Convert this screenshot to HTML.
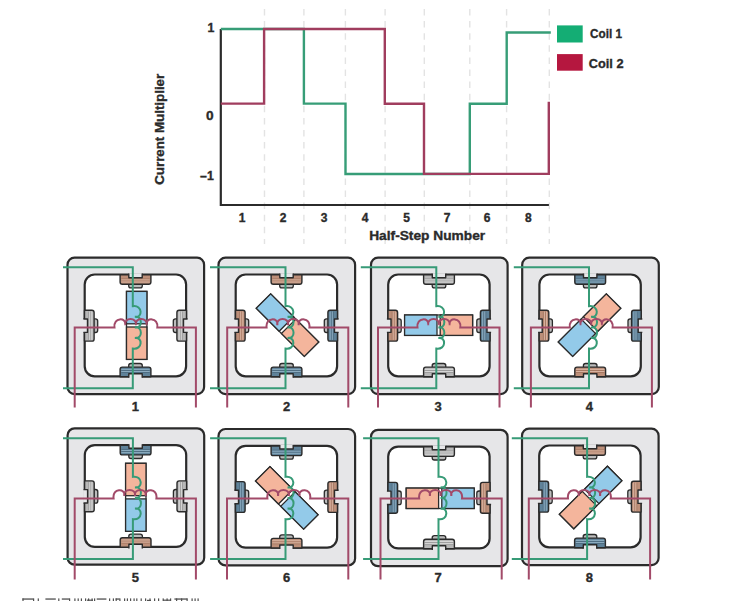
<!DOCTYPE html>
<html><head><meta charset="utf-8"><style>
html,body{margin:0;padding:0;background:#fff;}
svg{display:block;}
</style></head><body>
<svg width="746" height="601" viewBox="0 0 746 601">
<rect width="746" height="601" fill="#fff"/>
<line x1="264.5" y1="9" x2="264.5" y2="244" stroke="#e3e3e3" stroke-width="1.4" stroke-dasharray="6.5 5.6"/>
<line x1="303.9" y1="9" x2="303.9" y2="244" stroke="#e3e3e3" stroke-width="1.4" stroke-dasharray="6.5 5.6"/>
<line x1="345.4" y1="9" x2="345.4" y2="244" stroke="#e3e3e3" stroke-width="1.4" stroke-dasharray="6.5 5.6"/>
<line x1="385.1" y1="9" x2="385.1" y2="244" stroke="#e3e3e3" stroke-width="1.4" stroke-dasharray="6.5 5.6"/>
<line x1="424.3" y1="9" x2="424.3" y2="244" stroke="#e3e3e3" stroke-width="1.4" stroke-dasharray="6.5 5.6"/>
<line x1="469.8" y1="9" x2="469.8" y2="244" stroke="#e3e3e3" stroke-width="1.4" stroke-dasharray="6.5 5.6"/>
<line x1="506.6" y1="9" x2="506.6" y2="244" stroke="#e3e3e3" stroke-width="1.4" stroke-dasharray="6.5 5.6"/>
<line x1="549.3" y1="9" x2="549.3" y2="244" stroke="#e3e3e3" stroke-width="1.4" stroke-dasharray="6.5 5.6"/>
<path d="M220.8,29 V205 H548.9" fill="none" stroke="#2b2b2b" stroke-width="2.2"/>
<path d="M220.8,29 H303.9 V103.6 H345.5 V174 H469.8 V103.8 H506.7 V32.5 H550.8" fill="none" stroke="#379d77" stroke-width="2.4"/>
<path d="M220.8,103.6 H264.1 V29 H384.8 V103.7 H424 V173.9 H548.8 V101.8" fill="none" stroke="#a03d5e" stroke-width="2.4"/>
<rect x="557" y="25.4" width="25.7" height="17.1" fill="#14ad74"/>
<rect x="557" y="54.1" width="25.7" height="16.6" fill="#b5173f"/>
<text x="590" y="38.2" font-family="Liberation Sans, sans-serif" font-weight="bold" fill="#2a2a2a" stroke="#2a2a2a" stroke-width="0.35" font-size="13.2" textLength="32" lengthAdjust="spacingAndGlyphs">Coil 1</text>
<text x="588.8" y="67.7" font-family="Liberation Sans, sans-serif" font-weight="bold" fill="#2a2a2a" stroke="#2a2a2a" stroke-width="0.35" font-size="13.2" textLength="34.7" lengthAdjust="spacingAndGlyphs">Coil 2</text>
<text x="214.4" y="31.8" font-family="Liberation Sans, sans-serif" font-weight="bold" fill="#2a2a2a" stroke="#2a2a2a" stroke-width="0.35" font-size="12.3" text-anchor="end">1</text>
<text x="213.6" y="119.5" font-family="Liberation Sans, sans-serif" font-weight="bold" fill="#2a2a2a" stroke="#2a2a2a" stroke-width="0.35" font-size="12.3" text-anchor="end" textLength="7.6" lengthAdjust="spacingAndGlyphs">0</text>
<text x="213.8" y="179.9" font-family="Liberation Sans, sans-serif" font-weight="bold" fill="#2a2a2a" stroke="#2a2a2a" stroke-width="0.35" font-size="12.3" text-anchor="end">–1</text>
<text transform="translate(164,129.3) rotate(-90)" font-family="Liberation Sans, sans-serif" font-weight="bold" fill="#2a2a2a" stroke="#2a2a2a" stroke-width="0.35" font-size="13.4" text-anchor="middle" textLength="111" lengthAdjust="spacingAndGlyphs">Current Multiplier</text>
<text x="242" y="221.6" font-family="Liberation Sans, sans-serif" font-weight="bold" fill="#2a2a2a" stroke="#2a2a2a" stroke-width="0.35" font-size="12" text-anchor="middle">1</text>
<text x="283" y="221.6" font-family="Liberation Sans, sans-serif" font-weight="bold" fill="#2a2a2a" stroke="#2a2a2a" stroke-width="0.35" font-size="12" text-anchor="middle">2</text>
<text x="324" y="221.6" font-family="Liberation Sans, sans-serif" font-weight="bold" fill="#2a2a2a" stroke="#2a2a2a" stroke-width="0.35" font-size="12" text-anchor="middle">3</text>
<text x="365" y="221.6" font-family="Liberation Sans, sans-serif" font-weight="bold" fill="#2a2a2a" stroke="#2a2a2a" stroke-width="0.35" font-size="12" text-anchor="middle">4</text>
<text x="406.5" y="221.6" font-family="Liberation Sans, sans-serif" font-weight="bold" fill="#2a2a2a" stroke="#2a2a2a" stroke-width="0.35" font-size="12" text-anchor="middle">5</text>
<text x="447" y="221.6" font-family="Liberation Sans, sans-serif" font-weight="bold" fill="#2a2a2a" stroke="#2a2a2a" stroke-width="0.35" font-size="12" text-anchor="middle">7</text>
<text x="487.2" y="221.6" font-family="Liberation Sans, sans-serif" font-weight="bold" fill="#2a2a2a" stroke="#2a2a2a" stroke-width="0.35" font-size="12" text-anchor="middle">6</text>
<text x="528.3" y="221.6" font-family="Liberation Sans, sans-serif" font-weight="bold" fill="#2a2a2a" stroke="#2a2a2a" stroke-width="0.35" font-size="12" text-anchor="middle">8</text>
<text x="427.2" y="240.3" font-family="Liberation Sans, sans-serif" font-weight="bold" fill="#2a2a2a" stroke="#2a2a2a" stroke-width="0.35" font-size="13" text-anchor="middle" textLength="116" lengthAdjust="spacingAndGlyphs">Half-Step Number</text>
<g transform="translate(67.5,257.7)"><rect x="0" y="0" width="136.6" height="136.4" rx="7" fill="#e6e6e8" stroke="#2b2b2b" stroke-width="2.2"/><rect x="17.2" y="16.8" width="101.4" height="101.8" rx="10" fill="#fff" stroke="#2b2b2b" stroke-width="2.2"/><g transform="rotate(0 68 68)"><rect x="61.2" y="24.799999999999997" width="13.6" height="5.4" rx="2.2" fill="#bdbdbd" stroke="#2b2b2b" stroke-width="1.3"/><path d="M52.6,17 H83.4 V24.400000000000002 Q83.4,26.6 81.2,26.6 H54.8 Q52.6,26.6 52.6,24.400000000000002 Z" fill="#bd8f79" stroke="#2b2b2b" stroke-width="1.4" stroke-linejoin="round"/><path d="M53.8,21.2 H82.2 M53.8,23.2 H82.2" stroke="#8a5b48" stroke-width="0.7" opacity="0.6"/><path d="M53.8,22.2 H82.2 M53.8,24.3 H82.2" stroke="#dfbcab" stroke-width="0.8"/><rect x="61.3" y="15.5" width="13.4" height="4.5" fill="#e6e6e8"/><path d="M61.3,15.9 V20 H74.7 V15.9" fill="none" stroke="#2b2b2b" stroke-width="1.4" stroke-linejoin="round"/></g><g transform="rotate(90 68 68)"><rect x="61.2" y="24.799999999999997" width="13.6" height="5.4" rx="2.2" fill="#bdbdbd" stroke="#2b2b2b" stroke-width="1.3"/><path d="M52.6,17 H83.4 V24.400000000000002 Q83.4,26.6 81.2,26.6 H54.8 Q52.6,26.6 52.6,24.400000000000002 Z" fill="#b8b8b8" stroke="#2b2b2b" stroke-width="1.4" stroke-linejoin="round"/><path d="M53.8,21.2 H82.2 M53.8,23.2 H82.2" stroke="#777777" stroke-width="0.7" opacity="0.6"/><path d="M53.8,22.2 H82.2 M53.8,24.3 H82.2" stroke="#e0e0e0" stroke-width="0.8"/><rect x="61.3" y="15.5" width="13.4" height="4.5" fill="#e6e6e8"/><path d="M61.3,15.9 V20 H74.7 V15.9" fill="none" stroke="#2b2b2b" stroke-width="1.4" stroke-linejoin="round"/></g><g transform="rotate(180 68 68)"><rect x="61.2" y="24.799999999999997" width="13.6" height="5.4" rx="2.2" fill="#bdbdbd" stroke="#2b2b2b" stroke-width="1.3"/><path d="M52.6,17 H83.4 V24.400000000000002 Q83.4,26.6 81.2,26.6 H54.8 Q52.6,26.6 52.6,24.400000000000002 Z" fill="#5f8299" stroke="#2b2b2b" stroke-width="1.4" stroke-linejoin="round"/><path d="M53.8,21.2 H82.2 M53.8,23.2 H82.2" stroke="#3c5566" stroke-width="0.7" opacity="0.6"/><path d="M53.8,22.2 H82.2 M53.8,24.3 H82.2" stroke="#98b8ca" stroke-width="0.8"/><rect x="61.3" y="15.5" width="13.4" height="4.5" fill="#e6e6e8"/><path d="M61.3,15.9 V20 H74.7 V15.9" fill="none" stroke="#2b2b2b" stroke-width="1.4" stroke-linejoin="round"/></g><g transform="rotate(-90 68 68)"><rect x="61.2" y="24.799999999999997" width="13.6" height="5.4" rx="2.2" fill="#bdbdbd" stroke="#2b2b2b" stroke-width="1.3"/><path d="M52.6,17 H83.4 V24.400000000000002 Q83.4,26.6 81.2,26.6 H54.8 Q52.6,26.6 52.6,24.400000000000002 Z" fill="#b8b8b8" stroke="#2b2b2b" stroke-width="1.4" stroke-linejoin="round"/><path d="M53.8,21.2 H82.2 M53.8,23.2 H82.2" stroke="#777777" stroke-width="0.7" opacity="0.6"/><path d="M53.8,22.2 H82.2 M53.8,24.3 H82.2" stroke="#e0e0e0" stroke-width="0.8"/><rect x="61.3" y="15.5" width="13.4" height="4.5" fill="#e6e6e8"/><path d="M61.3,15.9 V20 H74.7 V15.9" fill="none" stroke="#2b2b2b" stroke-width="1.4" stroke-linejoin="round"/></g></g><g transform="translate(136.7,325.4) rotate(90)"><rect x="-34" y="-10.2" width="68" height="20.4" fill="#fff" stroke="#2b2b2b" stroke-width="1.3"/><rect x="-34" y="-10.2" width="32.4" height="20.4" fill="#93cae9" stroke="#2b2b2b" stroke-width="1.3"/><rect x="1.6" y="-10.2" width="32.4" height="20.4" fill="#f4b59c" stroke="#2b2b2b" stroke-width="1.3"/></g><path d="M63,267.2 H132.8 V306.2 C142.8,304.7 142.8,318.3 135.0,316.8 C142.8,315.3 142.8,328.90000000000003 135.0,327.40000000000003 C142.8,325.90000000000003 142.8,339.50000000000006 135.0,338.00000000000006 C142.8,336.50000000000006 142.8,350.1000000000001 132.8,348.6000000000001 V388.2 H63" fill="none" stroke="#379b77" stroke-width="2"/><path d="M74.7,407.6 V327.6 H114.5 C113.0,317.1 126.7,317.1 125.2,325.0 C123.7,317.1 137.4,317.1 135.9,325.0 C134.4,317.1 148.1,317.1 146.6,325.0 C145.1,317.1 158.79999999999998,317.1 157.29999999999998,327.6 H195.9 V407.6" fill="none" stroke="#a24a69" stroke-width="2"/><text x="135.4" y="411.2" font-family="Liberation Sans, sans-serif" font-weight="bold" fill="#2a2a2a" stroke="#2a2a2a" stroke-width="0.35" font-size="13" text-anchor="middle">1</text>
<g transform="translate(218.5,257.7)"><rect x="0" y="0" width="136.6" height="136.4" rx="7" fill="#e6e6e8" stroke="#2b2b2b" stroke-width="2.2"/><rect x="17.2" y="16.8" width="101.4" height="101.8" rx="10" fill="#fff" stroke="#2b2b2b" stroke-width="2.2"/><g transform="rotate(0 68 68)"><rect x="61.2" y="24.799999999999997" width="13.6" height="5.4" rx="2.2" fill="#bdbdbd" stroke="#2b2b2b" stroke-width="1.3"/><path d="M52.6,17 H83.4 V24.400000000000002 Q83.4,26.6 81.2,26.6 H54.8 Q52.6,26.6 52.6,24.400000000000002 Z" fill="#bd8f79" stroke="#2b2b2b" stroke-width="1.4" stroke-linejoin="round"/><path d="M53.8,21.2 H82.2 M53.8,23.2 H82.2" stroke="#8a5b48" stroke-width="0.7" opacity="0.6"/><path d="M53.8,22.2 H82.2 M53.8,24.3 H82.2" stroke="#dfbcab" stroke-width="0.8"/><rect x="61.3" y="15.5" width="13.4" height="4.5" fill="#e6e6e8"/><path d="M61.3,15.9 V20 H74.7 V15.9" fill="none" stroke="#2b2b2b" stroke-width="1.4" stroke-linejoin="round"/></g><g transform="rotate(90 68 68)"><rect x="61.2" y="24.799999999999997" width="13.6" height="5.4" rx="2.2" fill="#bdbdbd" stroke="#2b2b2b" stroke-width="1.3"/><path d="M52.6,17 H83.4 V24.400000000000002 Q83.4,26.6 81.2,26.6 H54.8 Q52.6,26.6 52.6,24.400000000000002 Z" fill="#5f8299" stroke="#2b2b2b" stroke-width="1.4" stroke-linejoin="round"/><path d="M53.8,21.2 H82.2 M53.8,23.2 H82.2" stroke="#3c5566" stroke-width="0.7" opacity="0.6"/><path d="M53.8,22.2 H82.2 M53.8,24.3 H82.2" stroke="#98b8ca" stroke-width="0.8"/><rect x="61.3" y="15.5" width="13.4" height="4.5" fill="#e6e6e8"/><path d="M61.3,15.9 V20 H74.7 V15.9" fill="none" stroke="#2b2b2b" stroke-width="1.4" stroke-linejoin="round"/></g><g transform="rotate(180 68 68)"><rect x="61.2" y="24.799999999999997" width="13.6" height="5.4" rx="2.2" fill="#bdbdbd" stroke="#2b2b2b" stroke-width="1.3"/><path d="M52.6,17 H83.4 V24.400000000000002 Q83.4,26.6 81.2,26.6 H54.8 Q52.6,26.6 52.6,24.400000000000002 Z" fill="#5f8299" stroke="#2b2b2b" stroke-width="1.4" stroke-linejoin="round"/><path d="M53.8,21.2 H82.2 M53.8,23.2 H82.2" stroke="#3c5566" stroke-width="0.7" opacity="0.6"/><path d="M53.8,22.2 H82.2 M53.8,24.3 H82.2" stroke="#98b8ca" stroke-width="0.8"/><rect x="61.3" y="15.5" width="13.4" height="4.5" fill="#e6e6e8"/><path d="M61.3,15.9 V20 H74.7 V15.9" fill="none" stroke="#2b2b2b" stroke-width="1.4" stroke-linejoin="round"/></g><g transform="rotate(-90 68 68)"><rect x="61.2" y="24.799999999999997" width="13.6" height="5.4" rx="2.2" fill="#bdbdbd" stroke="#2b2b2b" stroke-width="1.3"/><path d="M52.6,17 H83.4 V24.400000000000002 Q83.4,26.6 81.2,26.6 H54.8 Q52.6,26.6 52.6,24.400000000000002 Z" fill="#bd8f79" stroke="#2b2b2b" stroke-width="1.4" stroke-linejoin="round"/><path d="M53.8,21.2 H82.2 M53.8,23.2 H82.2" stroke="#8a5b48" stroke-width="0.7" opacity="0.6"/><path d="M53.8,22.2 H82.2 M53.8,24.3 H82.2" stroke="#dfbcab" stroke-width="0.8"/><rect x="61.3" y="15.5" width="13.4" height="4.5" fill="#e6e6e8"/><path d="M61.3,15.9 V20 H74.7 V15.9" fill="none" stroke="#2b2b2b" stroke-width="1.4" stroke-linejoin="round"/></g></g><g transform="translate(287.5,325.2) rotate(45)"><rect x="-34" y="-10.2" width="68" height="20.4" fill="#fff" stroke="#2b2b2b" stroke-width="1.3"/><rect x="-34" y="-10.2" width="32.4" height="20.4" fill="#93cae9" stroke="#2b2b2b" stroke-width="1.3"/><rect x="1.6" y="-10.2" width="32.4" height="20.4" fill="#f4b59c" stroke="#2b2b2b" stroke-width="1.3"/></g><path d="M210,267.2 H285.5 V306.2 C295.5,304.7 295.5,318.3 287.7,316.8 C295.5,315.3 295.5,328.90000000000003 287.7,327.40000000000003 C295.5,325.90000000000003 295.5,339.50000000000006 287.7,338.00000000000006 C295.5,336.50000000000006 295.5,350.1000000000001 285.5,348.6000000000001 V388.2 H210" fill="none" stroke="#379b77" stroke-width="2"/><path d="M227.2,407.6 V327.6 H266.6 C265.1,317.1 278.8,317.1 277.3,325.0 C275.8,317.1 289.5,317.1 288.0,325.0 C286.5,317.1 300.2,317.1 298.7,325.0 C297.2,317.1 310.9,317.1 309.4,327.6 H348.3 V407.6" fill="none" stroke="#a24a69" stroke-width="2"/><text x="286.6" y="411.2" font-family="Liberation Sans, sans-serif" font-weight="bold" fill="#2a2a2a" stroke="#2a2a2a" stroke-width="0.35" font-size="13" text-anchor="middle">2</text>
<g transform="translate(371,257.7)"><rect x="0" y="0" width="136.6" height="136.4" rx="7" fill="#e6e6e8" stroke="#2b2b2b" stroke-width="2.2"/><rect x="17.2" y="16.8" width="101.4" height="101.8" rx="10" fill="#fff" stroke="#2b2b2b" stroke-width="2.2"/><g transform="rotate(0 68 68)"><rect x="61.2" y="24.799999999999997" width="13.6" height="5.4" rx="2.2" fill="#bdbdbd" stroke="#2b2b2b" stroke-width="1.3"/><path d="M52.6,17 H83.4 V24.400000000000002 Q83.4,26.6 81.2,26.6 H54.8 Q52.6,26.6 52.6,24.400000000000002 Z" fill="#b8b8b8" stroke="#2b2b2b" stroke-width="1.4" stroke-linejoin="round"/><path d="M53.8,21.2 H82.2 M53.8,23.2 H82.2" stroke="#777777" stroke-width="0.7" opacity="0.6"/><path d="M53.8,22.2 H82.2 M53.8,24.3 H82.2" stroke="#e0e0e0" stroke-width="0.8"/><rect x="61.3" y="15.5" width="13.4" height="4.5" fill="#e6e6e8"/><path d="M61.3,15.9 V20 H74.7 V15.9" fill="none" stroke="#2b2b2b" stroke-width="1.4" stroke-linejoin="round"/></g><g transform="rotate(90 68 68)"><rect x="61.2" y="24.799999999999997" width="13.6" height="5.4" rx="2.2" fill="#bdbdbd" stroke="#2b2b2b" stroke-width="1.3"/><path d="M52.6,17 H83.4 V24.400000000000002 Q83.4,26.6 81.2,26.6 H54.8 Q52.6,26.6 52.6,24.400000000000002 Z" fill="#5f8299" stroke="#2b2b2b" stroke-width="1.4" stroke-linejoin="round"/><path d="M53.8,21.2 H82.2 M53.8,23.2 H82.2" stroke="#3c5566" stroke-width="0.7" opacity="0.6"/><path d="M53.8,22.2 H82.2 M53.8,24.3 H82.2" stroke="#98b8ca" stroke-width="0.8"/><rect x="61.3" y="15.5" width="13.4" height="4.5" fill="#e6e6e8"/><path d="M61.3,15.9 V20 H74.7 V15.9" fill="none" stroke="#2b2b2b" stroke-width="1.4" stroke-linejoin="round"/></g><g transform="rotate(180 68 68)"><rect x="61.2" y="24.799999999999997" width="13.6" height="5.4" rx="2.2" fill="#bdbdbd" stroke="#2b2b2b" stroke-width="1.3"/><path d="M52.6,17 H83.4 V24.400000000000002 Q83.4,26.6 81.2,26.6 H54.8 Q52.6,26.6 52.6,24.400000000000002 Z" fill="#b8b8b8" stroke="#2b2b2b" stroke-width="1.4" stroke-linejoin="round"/><path d="M53.8,21.2 H82.2 M53.8,23.2 H82.2" stroke="#777777" stroke-width="0.7" opacity="0.6"/><path d="M53.8,22.2 H82.2 M53.8,24.3 H82.2" stroke="#e0e0e0" stroke-width="0.8"/><rect x="61.3" y="15.5" width="13.4" height="4.5" fill="#e6e6e8"/><path d="M61.3,15.9 V20 H74.7 V15.9" fill="none" stroke="#2b2b2b" stroke-width="1.4" stroke-linejoin="round"/></g><g transform="rotate(-90 68 68)"><rect x="61.2" y="24.799999999999997" width="13.6" height="5.4" rx="2.2" fill="#bdbdbd" stroke="#2b2b2b" stroke-width="1.3"/><path d="M52.6,17 H83.4 V24.400000000000002 Q83.4,26.6 81.2,26.6 H54.8 Q52.6,26.6 52.6,24.400000000000002 Z" fill="#bd8f79" stroke="#2b2b2b" stroke-width="1.4" stroke-linejoin="round"/><path d="M53.8,21.2 H82.2 M53.8,23.2 H82.2" stroke="#8a5b48" stroke-width="0.7" opacity="0.6"/><path d="M53.8,22.2 H82.2 M53.8,24.3 H82.2" stroke="#dfbcab" stroke-width="0.8"/><rect x="61.3" y="15.5" width="13.4" height="4.5" fill="#e6e6e8"/><path d="M61.3,15.9 V20 H74.7 V15.9" fill="none" stroke="#2b2b2b" stroke-width="1.4" stroke-linejoin="round"/></g></g><g transform="translate(438.6,325.2) rotate(0)"><rect x="-34" y="-10.2" width="68" height="20.4" fill="#fff" stroke="#2b2b2b" stroke-width="1.3"/><rect x="-34" y="-10.2" width="32.4" height="20.4" fill="#93cae9" stroke="#2b2b2b" stroke-width="1.3"/><rect x="1.6" y="-10.2" width="32.4" height="20.4" fill="#f4b59c" stroke="#2b2b2b" stroke-width="1.3"/></g><path d="M360.8,267.2 H436.3 V306.2 C446.3,304.7 446.3,318.3 438.5,316.8 C446.3,315.3 446.3,328.90000000000003 438.5,327.40000000000003 C446.3,325.90000000000003 446.3,339.50000000000006 438.5,338.00000000000006 C446.3,336.50000000000006 446.3,350.1000000000001 436.3,348.6000000000001 V388.2 H360.8" fill="none" stroke="#379b77" stroke-width="2"/><path d="M378,407.6 V327.6 H417.5 C416.0,317.1 429.7,317.1 428.2,325.0 C426.7,317.1 440.4,317.1 438.9,325.0 C437.4,317.1 451.09999999999997,317.1 449.59999999999997,325.0 C448.09999999999997,317.1 461.79999999999995,317.1 460.29999999999995,327.6 H499.5 V407.6" fill="none" stroke="#a24a69" stroke-width="2"/><text x="438.1" y="411.2" font-family="Liberation Sans, sans-serif" font-weight="bold" fill="#2a2a2a" stroke="#2a2a2a" stroke-width="0.35" font-size="13" text-anchor="middle">3</text>
<g transform="translate(522.2,257.7)"><rect x="0" y="0" width="136.6" height="136.4" rx="7" fill="#e6e6e8" stroke="#2b2b2b" stroke-width="2.2"/><rect x="17.2" y="16.8" width="101.4" height="101.8" rx="10" fill="#fff" stroke="#2b2b2b" stroke-width="2.2"/><g transform="rotate(0 68 68)"><rect x="61.2" y="24.799999999999997" width="13.6" height="5.4" rx="2.2" fill="#bdbdbd" stroke="#2b2b2b" stroke-width="1.3"/><path d="M52.6,17 H83.4 V24.400000000000002 Q83.4,26.6 81.2,26.6 H54.8 Q52.6,26.6 52.6,24.400000000000002 Z" fill="#5f8299" stroke="#2b2b2b" stroke-width="1.4" stroke-linejoin="round"/><path d="M53.8,21.2 H82.2 M53.8,23.2 H82.2" stroke="#3c5566" stroke-width="0.7" opacity="0.6"/><path d="M53.8,22.2 H82.2 M53.8,24.3 H82.2" stroke="#98b8ca" stroke-width="0.8"/><rect x="61.3" y="15.5" width="13.4" height="4.5" fill="#e6e6e8"/><path d="M61.3,15.9 V20 H74.7 V15.9" fill="none" stroke="#2b2b2b" stroke-width="1.4" stroke-linejoin="round"/></g><g transform="rotate(90 68 68)"><rect x="61.2" y="24.799999999999997" width="13.6" height="5.4" rx="2.2" fill="#bdbdbd" stroke="#2b2b2b" stroke-width="1.3"/><path d="M52.6,17 H83.4 V24.400000000000002 Q83.4,26.6 81.2,26.6 H54.8 Q52.6,26.6 52.6,24.400000000000002 Z" fill="#5f8299" stroke="#2b2b2b" stroke-width="1.4" stroke-linejoin="round"/><path d="M53.8,21.2 H82.2 M53.8,23.2 H82.2" stroke="#3c5566" stroke-width="0.7" opacity="0.6"/><path d="M53.8,22.2 H82.2 M53.8,24.3 H82.2" stroke="#98b8ca" stroke-width="0.8"/><rect x="61.3" y="15.5" width="13.4" height="4.5" fill="#e6e6e8"/><path d="M61.3,15.9 V20 H74.7 V15.9" fill="none" stroke="#2b2b2b" stroke-width="1.4" stroke-linejoin="round"/></g><g transform="rotate(180 68 68)"><rect x="61.2" y="24.799999999999997" width="13.6" height="5.4" rx="2.2" fill="#bdbdbd" stroke="#2b2b2b" stroke-width="1.3"/><path d="M52.6,17 H83.4 V24.400000000000002 Q83.4,26.6 81.2,26.6 H54.8 Q52.6,26.6 52.6,24.400000000000002 Z" fill="#bd8f79" stroke="#2b2b2b" stroke-width="1.4" stroke-linejoin="round"/><path d="M53.8,21.2 H82.2 M53.8,23.2 H82.2" stroke="#8a5b48" stroke-width="0.7" opacity="0.6"/><path d="M53.8,22.2 H82.2 M53.8,24.3 H82.2" stroke="#dfbcab" stroke-width="0.8"/><rect x="61.3" y="15.5" width="13.4" height="4.5" fill="#e6e6e8"/><path d="M61.3,15.9 V20 H74.7 V15.9" fill="none" stroke="#2b2b2b" stroke-width="1.4" stroke-linejoin="round"/></g><g transform="rotate(-90 68 68)"><rect x="61.2" y="24.799999999999997" width="13.6" height="5.4" rx="2.2" fill="#bdbdbd" stroke="#2b2b2b" stroke-width="1.3"/><path d="M52.6,17 H83.4 V24.400000000000002 Q83.4,26.6 81.2,26.6 H54.8 Q52.6,26.6 52.6,24.400000000000002 Z" fill="#bd8f79" stroke="#2b2b2b" stroke-width="1.4" stroke-linejoin="round"/><path d="M53.8,21.2 H82.2 M53.8,23.2 H82.2" stroke="#8a5b48" stroke-width="0.7" opacity="0.6"/><path d="M53.8,22.2 H82.2 M53.8,24.3 H82.2" stroke="#dfbcab" stroke-width="0.8"/><rect x="61.3" y="15.5" width="13.4" height="4.5" fill="#e6e6e8"/><path d="M61.3,15.9 V20 H74.7 V15.9" fill="none" stroke="#2b2b2b" stroke-width="1.4" stroke-linejoin="round"/></g></g><g transform="translate(589.5,325.2) rotate(-45)"><rect x="-34" y="-10.2" width="68" height="20.4" fill="#fff" stroke="#2b2b2b" stroke-width="1.3"/><rect x="-34" y="-10.2" width="32.4" height="20.4" fill="#93cae9" stroke="#2b2b2b" stroke-width="1.3"/><rect x="1.6" y="-10.2" width="32.4" height="20.4" fill="#f4b59c" stroke="#2b2b2b" stroke-width="1.3"/></g><path d="M513.8,267.2 H589 V306.2 C599,304.7 599,318.3 591.2,316.8 C599,315.3 599,328.90000000000003 591.2,327.40000000000003 C599,325.90000000000003 599,339.50000000000006 591.2,338.00000000000006 C599,336.50000000000006 599,350.1000000000001 589,348.6000000000001 V388.2 H513.8" fill="none" stroke="#379b77" stroke-width="2"/><path d="M530.9,407.6 V327.6 H569.8 C568.3,317.1 582.0,317.1 580.5,325.0 C579.0,317.1 592.7,317.1 591.2,325.0 C589.7,317.1 603.4000000000001,317.1 601.9000000000001,325.0 C600.4000000000001,317.1 614.1000000000001,317.1 612.6000000000001,327.6 H651.9 V407.6" fill="none" stroke="#a24a69" stroke-width="2"/><text x="589.4" y="411.2" font-family="Liberation Sans, sans-serif" font-weight="bold" fill="#2a2a2a" stroke="#2a2a2a" stroke-width="0.35" font-size="13" text-anchor="middle">4</text>
<g transform="translate(67.6,428.3)"><rect x="0" y="0" width="136.6" height="136.4" rx="7" fill="#e6e6e8" stroke="#2b2b2b" stroke-width="2.2"/><rect x="17.2" y="16.8" width="101.4" height="101.8" rx="10" fill="#fff" stroke="#2b2b2b" stroke-width="2.2"/><g transform="rotate(0 68 68)"><rect x="61.2" y="24.799999999999997" width="13.6" height="5.4" rx="2.2" fill="#bdbdbd" stroke="#2b2b2b" stroke-width="1.3"/><path d="M52.6,17 H83.4 V24.400000000000002 Q83.4,26.6 81.2,26.6 H54.8 Q52.6,26.6 52.6,24.400000000000002 Z" fill="#5f8299" stroke="#2b2b2b" stroke-width="1.4" stroke-linejoin="round"/><path d="M53.8,21.2 H82.2 M53.8,23.2 H82.2" stroke="#3c5566" stroke-width="0.7" opacity="0.6"/><path d="M53.8,22.2 H82.2 M53.8,24.3 H82.2" stroke="#98b8ca" stroke-width="0.8"/><rect x="61.3" y="15.5" width="13.4" height="4.5" fill="#e6e6e8"/><path d="M61.3,15.9 V20 H74.7 V15.9" fill="none" stroke="#2b2b2b" stroke-width="1.4" stroke-linejoin="round"/></g><g transform="rotate(90 68 68)"><rect x="61.2" y="24.799999999999997" width="13.6" height="5.4" rx="2.2" fill="#bdbdbd" stroke="#2b2b2b" stroke-width="1.3"/><path d="M52.6,17 H83.4 V24.400000000000002 Q83.4,26.6 81.2,26.6 H54.8 Q52.6,26.6 52.6,24.400000000000002 Z" fill="#b8b8b8" stroke="#2b2b2b" stroke-width="1.4" stroke-linejoin="round"/><path d="M53.8,21.2 H82.2 M53.8,23.2 H82.2" stroke="#777777" stroke-width="0.7" opacity="0.6"/><path d="M53.8,22.2 H82.2 M53.8,24.3 H82.2" stroke="#e0e0e0" stroke-width="0.8"/><rect x="61.3" y="15.5" width="13.4" height="4.5" fill="#e6e6e8"/><path d="M61.3,15.9 V20 H74.7 V15.9" fill="none" stroke="#2b2b2b" stroke-width="1.4" stroke-linejoin="round"/></g><g transform="rotate(180 68 68)"><rect x="61.2" y="24.799999999999997" width="13.6" height="5.4" rx="2.2" fill="#bdbdbd" stroke="#2b2b2b" stroke-width="1.3"/><path d="M52.6,17 H83.4 V24.400000000000002 Q83.4,26.6 81.2,26.6 H54.8 Q52.6,26.6 52.6,24.400000000000002 Z" fill="#bd8f79" stroke="#2b2b2b" stroke-width="1.4" stroke-linejoin="round"/><path d="M53.8,21.2 H82.2 M53.8,23.2 H82.2" stroke="#8a5b48" stroke-width="0.7" opacity="0.6"/><path d="M53.8,22.2 H82.2 M53.8,24.3 H82.2" stroke="#dfbcab" stroke-width="0.8"/><rect x="61.3" y="15.5" width="13.4" height="4.5" fill="#e6e6e8"/><path d="M61.3,15.9 V20 H74.7 V15.9" fill="none" stroke="#2b2b2b" stroke-width="1.4" stroke-linejoin="round"/></g><g transform="rotate(-90 68 68)"><rect x="61.2" y="24.799999999999997" width="13.6" height="5.4" rx="2.2" fill="#bdbdbd" stroke="#2b2b2b" stroke-width="1.3"/><path d="M52.6,17 H83.4 V24.400000000000002 Q83.4,26.6 81.2,26.6 H54.8 Q52.6,26.6 52.6,24.400000000000002 Z" fill="#b8b8b8" stroke="#2b2b2b" stroke-width="1.4" stroke-linejoin="round"/><path d="M53.8,21.2 H82.2 M53.8,23.2 H82.2" stroke="#777777" stroke-width="0.7" opacity="0.6"/><path d="M53.8,22.2 H82.2 M53.8,24.3 H82.2" stroke="#e0e0e0" stroke-width="0.8"/><rect x="61.3" y="15.5" width="13.4" height="4.5" fill="#e6e6e8"/><path d="M61.3,15.9 V20 H74.7 V15.9" fill="none" stroke="#2b2b2b" stroke-width="1.4" stroke-linejoin="round"/></g></g><g transform="translate(135.8,497.3) rotate(-90)"><rect x="-34" y="-10.2" width="68" height="20.4" fill="#fff" stroke="#2b2b2b" stroke-width="1.3"/><rect x="-34" y="-10.2" width="32.4" height="20.4" fill="#93cae9" stroke="#2b2b2b" stroke-width="1.3"/><rect x="1.6" y="-10.2" width="32.4" height="20.4" fill="#f4b59c" stroke="#2b2b2b" stroke-width="1.3"/></g><path d="M63,438.3 H132.9 V476.8 C142.9,475.3 142.9,488.90000000000003 135.1,487.40000000000003 C142.9,485.90000000000003 142.9,499.50000000000006 135.1,498.00000000000006 C142.9,496.50000000000006 142.9,510.1000000000001 135.1,508.6000000000001 C142.9,507.1000000000001 142.9,520.7 132.9,519.2 V559.1 H63" fill="none" stroke="#379b77" stroke-width="2"/><path d="M74.7,579.5 V498.4 H113.6 C112.1,487.9 125.8,487.9 124.3,495.79999999999995 C122.8,487.9 136.5,487.9 135.0,495.79999999999995 C133.5,487.9 147.2,487.9 145.7,495.79999999999995 C144.2,487.9 157.89999999999998,487.9 156.39999999999998,498.4 H195.9 V579.5" fill="none" stroke="#a24a69" stroke-width="2"/><text x="135.4" y="581.8" font-family="Liberation Sans, sans-serif" font-weight="bold" fill="#2a2a2a" stroke="#2a2a2a" stroke-width="0.35" font-size="13" text-anchor="middle">5</text>
<g transform="translate(218.5,429)"><rect x="0" y="0" width="136.6" height="136.4" rx="7" fill="#e6e6e8" stroke="#2b2b2b" stroke-width="2.2"/><rect x="17.2" y="16.8" width="101.4" height="101.8" rx="10" fill="#fff" stroke="#2b2b2b" stroke-width="2.2"/><g transform="rotate(0 68 68)"><rect x="61.2" y="24.799999999999997" width="13.6" height="5.4" rx="2.2" fill="#bdbdbd" stroke="#2b2b2b" stroke-width="1.3"/><path d="M52.6,17 H83.4 V24.400000000000002 Q83.4,26.6 81.2,26.6 H54.8 Q52.6,26.6 52.6,24.400000000000002 Z" fill="#5f8299" stroke="#2b2b2b" stroke-width="1.4" stroke-linejoin="round"/><path d="M53.8,21.2 H82.2 M53.8,23.2 H82.2" stroke="#3c5566" stroke-width="0.7" opacity="0.6"/><path d="M53.8,22.2 H82.2 M53.8,24.3 H82.2" stroke="#98b8ca" stroke-width="0.8"/><rect x="61.3" y="15.5" width="13.4" height="4.5" fill="#e6e6e8"/><path d="M61.3,15.9 V20 H74.7 V15.9" fill="none" stroke="#2b2b2b" stroke-width="1.4" stroke-linejoin="round"/></g><g transform="rotate(90 68 68)"><rect x="61.2" y="24.799999999999997" width="13.6" height="5.4" rx="2.2" fill="#bdbdbd" stroke="#2b2b2b" stroke-width="1.3"/><path d="M52.6,17 H83.4 V24.400000000000002 Q83.4,26.6 81.2,26.6 H54.8 Q52.6,26.6 52.6,24.400000000000002 Z" fill="#bd8f79" stroke="#2b2b2b" stroke-width="1.4" stroke-linejoin="round"/><path d="M53.8,21.2 H82.2 M53.8,23.2 H82.2" stroke="#8a5b48" stroke-width="0.7" opacity="0.6"/><path d="M53.8,22.2 H82.2 M53.8,24.3 H82.2" stroke="#dfbcab" stroke-width="0.8"/><rect x="61.3" y="15.5" width="13.4" height="4.5" fill="#e6e6e8"/><path d="M61.3,15.9 V20 H74.7 V15.9" fill="none" stroke="#2b2b2b" stroke-width="1.4" stroke-linejoin="round"/></g><g transform="rotate(180 68 68)"><rect x="61.2" y="24.799999999999997" width="13.6" height="5.4" rx="2.2" fill="#bdbdbd" stroke="#2b2b2b" stroke-width="1.3"/><path d="M52.6,17 H83.4 V24.400000000000002 Q83.4,26.6 81.2,26.6 H54.8 Q52.6,26.6 52.6,24.400000000000002 Z" fill="#bd8f79" stroke="#2b2b2b" stroke-width="1.4" stroke-linejoin="round"/><path d="M53.8,21.2 H82.2 M53.8,23.2 H82.2" stroke="#8a5b48" stroke-width="0.7" opacity="0.6"/><path d="M53.8,22.2 H82.2 M53.8,24.3 H82.2" stroke="#dfbcab" stroke-width="0.8"/><rect x="61.3" y="15.5" width="13.4" height="4.5" fill="#e6e6e8"/><path d="M61.3,15.9 V20 H74.7 V15.9" fill="none" stroke="#2b2b2b" stroke-width="1.4" stroke-linejoin="round"/></g><g transform="rotate(-90 68 68)"><rect x="61.2" y="24.799999999999997" width="13.6" height="5.4" rx="2.2" fill="#bdbdbd" stroke="#2b2b2b" stroke-width="1.3"/><path d="M52.6,17 H83.4 V24.400000000000002 Q83.4,26.6 81.2,26.6 H54.8 Q52.6,26.6 52.6,24.400000000000002 Z" fill="#5f8299" stroke="#2b2b2b" stroke-width="1.4" stroke-linejoin="round"/><path d="M53.8,21.2 H82.2 M53.8,23.2 H82.2" stroke="#3c5566" stroke-width="0.7" opacity="0.6"/><path d="M53.8,22.2 H82.2 M53.8,24.3 H82.2" stroke="#98b8ca" stroke-width="0.8"/><rect x="61.3" y="15.5" width="13.4" height="4.5" fill="#e6e6e8"/><path d="M61.3,15.9 V20 H74.7 V15.9" fill="none" stroke="#2b2b2b" stroke-width="1.4" stroke-linejoin="round"/></g></g><g transform="translate(286.8,497.9) rotate(-135)"><rect x="-34" y="-10.2" width="68" height="20.4" fill="#fff" stroke="#2b2b2b" stroke-width="1.3"/><rect x="-34" y="-10.2" width="32.4" height="20.4" fill="#93cae9" stroke="#2b2b2b" stroke-width="1.3"/><rect x="1.6" y="-10.2" width="32.4" height="20.4" fill="#f4b59c" stroke="#2b2b2b" stroke-width="1.3"/></g><path d="M210.1,438.3 H285.5 V476.8 C295.5,475.3 295.5,488.90000000000003 287.7,487.40000000000003 C295.5,485.90000000000003 295.5,499.50000000000006 287.7,498.00000000000006 C295.5,496.50000000000006 295.5,510.1000000000001 287.7,508.6000000000001 C295.5,507.1000000000001 295.5,520.7 285.5,519.2 V559.1 H210.1" fill="none" stroke="#379b77" stroke-width="2"/><path d="M227,579.5 V498.4 H267.4 C265.9,487.9 279.59999999999997,487.9 278.09999999999997,495.79999999999995 C276.59999999999997,487.9 290.29999999999995,487.9 288.79999999999995,495.79999999999995 C287.29999999999995,487.9 300.99999999999994,487.9 299.49999999999994,495.79999999999995 C297.99999999999994,487.9 311.69999999999993,487.9 310.19999999999993,498.4 H348.3 V579.5" fill="none" stroke="#a24a69" stroke-width="2"/><text x="286.6" y="581.8" font-family="Liberation Sans, sans-serif" font-weight="bold" fill="#2a2a2a" stroke="#2a2a2a" stroke-width="0.35" font-size="13" text-anchor="middle">6</text>
<g transform="translate(371,429.8)"><rect x="0" y="0" width="136.6" height="136.4" rx="7" fill="#e6e6e8" stroke="#2b2b2b" stroke-width="2.2"/><rect x="17.2" y="16.8" width="101.4" height="101.8" rx="10" fill="#fff" stroke="#2b2b2b" stroke-width="2.2"/><g transform="rotate(0 68 68)"><rect x="61.2" y="24.799999999999997" width="13.6" height="5.4" rx="2.2" fill="#bdbdbd" stroke="#2b2b2b" stroke-width="1.3"/><path d="M52.6,17 H83.4 V24.400000000000002 Q83.4,26.6 81.2,26.6 H54.8 Q52.6,26.6 52.6,24.400000000000002 Z" fill="#b8b8b8" stroke="#2b2b2b" stroke-width="1.4" stroke-linejoin="round"/><path d="M53.8,21.2 H82.2 M53.8,23.2 H82.2" stroke="#777777" stroke-width="0.7" opacity="0.6"/><path d="M53.8,22.2 H82.2 M53.8,24.3 H82.2" stroke="#e0e0e0" stroke-width="0.8"/><rect x="61.3" y="15.5" width="13.4" height="4.5" fill="#e6e6e8"/><path d="M61.3,15.9 V20 H74.7 V15.9" fill="none" stroke="#2b2b2b" stroke-width="1.4" stroke-linejoin="round"/></g><g transform="rotate(90 68 68)"><rect x="61.2" y="24.799999999999997" width="13.6" height="5.4" rx="2.2" fill="#bdbdbd" stroke="#2b2b2b" stroke-width="1.3"/><path d="M52.6,17 H83.4 V24.400000000000002 Q83.4,26.6 81.2,26.6 H54.8 Q52.6,26.6 52.6,24.400000000000002 Z" fill="#bd8f79" stroke="#2b2b2b" stroke-width="1.4" stroke-linejoin="round"/><path d="M53.8,21.2 H82.2 M53.8,23.2 H82.2" stroke="#8a5b48" stroke-width="0.7" opacity="0.6"/><path d="M53.8,22.2 H82.2 M53.8,24.3 H82.2" stroke="#dfbcab" stroke-width="0.8"/><rect x="61.3" y="15.5" width="13.4" height="4.5" fill="#e6e6e8"/><path d="M61.3,15.9 V20 H74.7 V15.9" fill="none" stroke="#2b2b2b" stroke-width="1.4" stroke-linejoin="round"/></g><g transform="rotate(180 68 68)"><rect x="61.2" y="24.799999999999997" width="13.6" height="5.4" rx="2.2" fill="#bdbdbd" stroke="#2b2b2b" stroke-width="1.3"/><path d="M52.6,17 H83.4 V24.400000000000002 Q83.4,26.6 81.2,26.6 H54.8 Q52.6,26.6 52.6,24.400000000000002 Z" fill="#b8b8b8" stroke="#2b2b2b" stroke-width="1.4" stroke-linejoin="round"/><path d="M53.8,21.2 H82.2 M53.8,23.2 H82.2" stroke="#777777" stroke-width="0.7" opacity="0.6"/><path d="M53.8,22.2 H82.2 M53.8,24.3 H82.2" stroke="#e0e0e0" stroke-width="0.8"/><rect x="61.3" y="15.5" width="13.4" height="4.5" fill="#e6e6e8"/><path d="M61.3,15.9 V20 H74.7 V15.9" fill="none" stroke="#2b2b2b" stroke-width="1.4" stroke-linejoin="round"/></g><g transform="rotate(-90 68 68)"><rect x="61.2" y="24.799999999999997" width="13.6" height="5.4" rx="2.2" fill="#bdbdbd" stroke="#2b2b2b" stroke-width="1.3"/><path d="M52.6,17 H83.4 V24.400000000000002 Q83.4,26.6 81.2,26.6 H54.8 Q52.6,26.6 52.6,24.400000000000002 Z" fill="#5f8299" stroke="#2b2b2b" stroke-width="1.4" stroke-linejoin="round"/><path d="M53.8,21.2 H82.2 M53.8,23.2 H82.2" stroke="#3c5566" stroke-width="0.7" opacity="0.6"/><path d="M53.8,22.2 H82.2 M53.8,24.3 H82.2" stroke="#98b8ca" stroke-width="0.8"/><rect x="61.3" y="15.5" width="13.4" height="4.5" fill="#e6e6e8"/><path d="M61.3,15.9 V20 H74.7 V15.9" fill="none" stroke="#2b2b2b" stroke-width="1.4" stroke-linejoin="round"/></g></g><g transform="translate(440.2,498.3) rotate(180)"><rect x="-34" y="-10.2" width="68" height="20.4" fill="#fff" stroke="#2b2b2b" stroke-width="1.3"/><rect x="-34" y="-10.2" width="32.4" height="20.4" fill="#93cae9" stroke="#2b2b2b" stroke-width="1.3"/><rect x="1.6" y="-10.2" width="32.4" height="20.4" fill="#f4b59c" stroke="#2b2b2b" stroke-width="1.3"/></g><path d="M363.1,438.3 H438.5 V476.8 C448.5,475.3 448.5,488.90000000000003 440.7,487.40000000000003 C448.5,485.90000000000003 448.5,499.50000000000006 440.7,498.00000000000006 C448.5,496.50000000000006 448.5,510.1000000000001 440.7,508.6000000000001 C448.5,507.1000000000001 448.5,520.7 438.5,519.2 V559.1 H363.1" fill="none" stroke="#379b77" stroke-width="2"/><path d="M380.5,579.5 V498.4 H419.2 C417.7,487.9 431.4,487.9 429.9,495.79999999999995 C428.4,487.9 442.09999999999997,487.9 440.59999999999997,495.79999999999995 C439.09999999999997,487.9 452.79999999999995,487.9 451.29999999999995,495.79999999999995 C449.79999999999995,487.9 463.49999999999994,487.9 461.99999999999994,498.4 H501.7 V579.5" fill="none" stroke="#a24a69" stroke-width="2"/><text x="438.1" y="581.8" font-family="Liberation Sans, sans-serif" font-weight="bold" fill="#2a2a2a" stroke="#2a2a2a" stroke-width="0.35" font-size="13" text-anchor="middle">7</text>
<g transform="translate(522,428.7)"><rect x="0" y="0" width="136.6" height="136.4" rx="7" fill="#e6e6e8" stroke="#2b2b2b" stroke-width="2.2"/><rect x="17.2" y="16.8" width="101.4" height="101.8" rx="10" fill="#fff" stroke="#2b2b2b" stroke-width="2.2"/><g transform="rotate(0 68 68)"><rect x="61.2" y="24.799999999999997" width="13.6" height="5.4" rx="2.2" fill="#bdbdbd" stroke="#2b2b2b" stroke-width="1.3"/><path d="M52.6,17 H83.4 V24.400000000000002 Q83.4,26.6 81.2,26.6 H54.8 Q52.6,26.6 52.6,24.400000000000002 Z" fill="#bd8f79" stroke="#2b2b2b" stroke-width="1.4" stroke-linejoin="round"/><path d="M53.8,21.2 H82.2 M53.8,23.2 H82.2" stroke="#8a5b48" stroke-width="0.7" opacity="0.6"/><path d="M53.8,22.2 H82.2 M53.8,24.3 H82.2" stroke="#dfbcab" stroke-width="0.8"/><rect x="61.3" y="15.5" width="13.4" height="4.5" fill="#e6e6e8"/><path d="M61.3,15.9 V20 H74.7 V15.9" fill="none" stroke="#2b2b2b" stroke-width="1.4" stroke-linejoin="round"/></g><g transform="rotate(90 68 68)"><rect x="61.2" y="24.799999999999997" width="13.6" height="5.4" rx="2.2" fill="#bdbdbd" stroke="#2b2b2b" stroke-width="1.3"/><path d="M52.6,17 H83.4 V24.400000000000002 Q83.4,26.6 81.2,26.6 H54.8 Q52.6,26.6 52.6,24.400000000000002 Z" fill="#bd8f79" stroke="#2b2b2b" stroke-width="1.4" stroke-linejoin="round"/><path d="M53.8,21.2 H82.2 M53.8,23.2 H82.2" stroke="#8a5b48" stroke-width="0.7" opacity="0.6"/><path d="M53.8,22.2 H82.2 M53.8,24.3 H82.2" stroke="#dfbcab" stroke-width="0.8"/><rect x="61.3" y="15.5" width="13.4" height="4.5" fill="#e6e6e8"/><path d="M61.3,15.9 V20 H74.7 V15.9" fill="none" stroke="#2b2b2b" stroke-width="1.4" stroke-linejoin="round"/></g><g transform="rotate(180 68 68)"><rect x="61.2" y="24.799999999999997" width="13.6" height="5.4" rx="2.2" fill="#bdbdbd" stroke="#2b2b2b" stroke-width="1.3"/><path d="M52.6,17 H83.4 V24.400000000000002 Q83.4,26.6 81.2,26.6 H54.8 Q52.6,26.6 52.6,24.400000000000002 Z" fill="#5f8299" stroke="#2b2b2b" stroke-width="1.4" stroke-linejoin="round"/><path d="M53.8,21.2 H82.2 M53.8,23.2 H82.2" stroke="#3c5566" stroke-width="0.7" opacity="0.6"/><path d="M53.8,22.2 H82.2 M53.8,24.3 H82.2" stroke="#98b8ca" stroke-width="0.8"/><rect x="61.3" y="15.5" width="13.4" height="4.5" fill="#e6e6e8"/><path d="M61.3,15.9 V20 H74.7 V15.9" fill="none" stroke="#2b2b2b" stroke-width="1.4" stroke-linejoin="round"/></g><g transform="rotate(-90 68 68)"><rect x="61.2" y="24.799999999999997" width="13.6" height="5.4" rx="2.2" fill="#bdbdbd" stroke="#2b2b2b" stroke-width="1.3"/><path d="M52.6,17 H83.4 V24.400000000000002 Q83.4,26.6 81.2,26.6 H54.8 Q52.6,26.6 52.6,24.400000000000002 Z" fill="#5f8299" stroke="#2b2b2b" stroke-width="1.4" stroke-linejoin="round"/><path d="M53.8,21.2 H82.2 M53.8,23.2 H82.2" stroke="#3c5566" stroke-width="0.7" opacity="0.6"/><path d="M53.8,22.2 H82.2 M53.8,24.3 H82.2" stroke="#98b8ca" stroke-width="0.8"/><rect x="61.3" y="15.5" width="13.4" height="4.5" fill="#e6e6e8"/><path d="M61.3,15.9 V20 H74.7 V15.9" fill="none" stroke="#2b2b2b" stroke-width="1.4" stroke-linejoin="round"/></g></g><g transform="translate(590.6,497.5) rotate(135)"><rect x="-34" y="-10.2" width="68" height="20.4" fill="#fff" stroke="#2b2b2b" stroke-width="1.3"/><rect x="-34" y="-10.2" width="32.4" height="20.4" fill="#93cae9" stroke="#2b2b2b" stroke-width="1.3"/><rect x="1.6" y="-10.2" width="32.4" height="20.4" fill="#f4b59c" stroke="#2b2b2b" stroke-width="1.3"/></g><path d="M511.8,438.3 H587.1 V476.8 C597.1,475.3 597.1,488.90000000000003 589.3000000000001,487.40000000000003 C597.1,485.90000000000003 597.1,499.50000000000006 589.3000000000001,498.00000000000006 C597.1,496.50000000000006 597.1,510.1000000000001 589.3000000000001,508.6000000000001 C597.1,507.1000000000001 597.1,520.7 587.1,519.2 V559.1 H511.8" fill="none" stroke="#379b77" stroke-width="2"/><path d="M528.8,579.5 V498.4 H568 C566.5,487.9 580.2,487.9 578.7,495.79999999999995 C577.2,487.9 590.9000000000001,487.9 589.4000000000001,495.79999999999995 C587.9000000000001,487.9 601.6000000000001,487.9 600.1000000000001,495.79999999999995 C598.6000000000001,487.9 612.3000000000002,487.9 610.8000000000002,498.4 H650.1 V579.5" fill="none" stroke="#a24a69" stroke-width="2"/><text x="589.4" y="581.8" font-family="Liberation Sans, sans-serif" font-weight="bold" fill="#2a2a2a" stroke="#2a2a2a" stroke-width="0.35" font-size="13" text-anchor="middle">8</text>
<g fill="#333" opacity="0.85">
<rect x="22.4" y="598.4" width="11" height="1.3"/>
<rect x="45.4" y="598.4" width="10.4" height="1.3"/>
<rect x="61.8" y="598.4" width="7.7" height="1.3"/>
<rect x="96.7" y="598.4" width="9.7" height="1.3"/>
<rect x="115.6" y="598.4" width="4" height="1.3"/>
<rect x="174.4" y="598.4" width="13" height="1.3"/>
<rect x="22.4" y="598.4" width="1.2" height="2.6"/>
<rect x="33" y="598.4" width="1.2" height="2.6"/>
<rect x="37.7" y="598.4" width="1.2" height="2.6"/>
<rect x="58.2" y="598.4" width="1.2" height="2.6"/>
<rect x="69" y="598.4" width="1.2" height="2.6"/>
<rect x="74.3" y="598.4" width="1.2" height="2.6"/>
<rect x="77.6" y="598.4" width="1.2" height="2.6"/>
<rect x="80.8" y="598.4" width="1.2" height="2.6"/>
<rect x="85" y="598.4" width="1.2" height="2.6"/>
<rect x="88" y="598.4" width="1.2" height="2.6"/>
<rect x="91.5" y="598.4" width="1.2" height="2.6"/>
<rect x="94" y="598.4" width="1.2" height="2.6"/>
<rect x="109" y="598.4" width="1.2" height="2.6"/>
<rect x="112.8" y="598.4" width="1.2" height="2.6"/>
<rect x="115.6" y="598.4" width="1.2" height="2.6"/>
<rect x="119.3" y="598.4" width="1.2" height="2.6"/>
<rect x="124" y="598.4" width="1.2" height="2.6"/>
<rect x="126.8" y="598.4" width="1.2" height="2.6"/>
<rect x="130" y="598.4" width="1.2" height="2.6"/>
<rect x="133.5" y="598.4" width="1.2" height="2.6"/>
<rect x="136.2" y="598.4" width="1.2" height="2.6"/>
<rect x="140.6" y="598.4" width="1.2" height="2.6"/>
<rect x="145" y="598.4" width="1.2" height="2.6"/>
<rect x="149.4" y="598.4" width="1.2" height="2.6"/>
<rect x="154" y="598.4" width="1.2" height="2.6"/>
<rect x="158" y="598.4" width="1.2" height="2.6"/>
<rect x="162.6" y="598.4" width="1.2" height="2.6"/>
<rect x="166.5" y="598.4" width="1.2" height="2.6"/>
<rect x="170" y="598.4" width="1.2" height="2.6"/>
<rect x="176" y="598.4" width="1.2" height="2.6"/>
<rect x="181" y="598.4" width="1.2" height="2.6"/>
<rect x="186.5" y="598.4" width="1.2" height="2.6"/>
<rect x="191.5" y="598.4" width="1.2" height="2.6"/>
<rect x="194.5" y="598.4" width="1.2" height="2.6"/>
<rect x="197.5" y="598.4" width="1.2" height="2.6"/>
<rect x="163" y="599.6" width="7" height="1.2"/><rect x="87" y="599.6" width="6" height="1.2"/><rect x="147" y="599.8" width="4" height="1.2"/>
</g>
</svg>
</body></html>
